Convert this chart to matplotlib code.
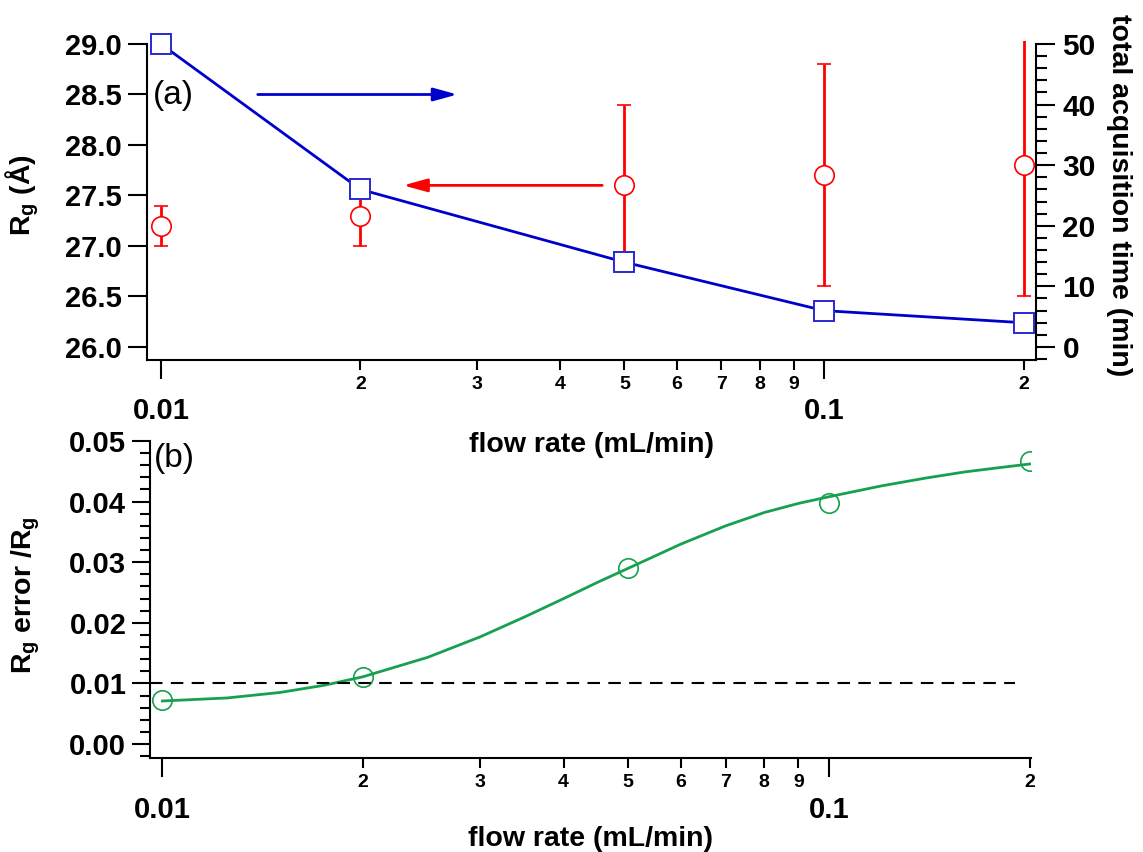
import numpy as np
import matplotlib
matplotlib.use('Agg')
import matplotlib.pyplot as plt
from matplotlib.ticker import FixedLocator, FixedFormatter, MultipleLocator, FormatStrFormatter

plt.rcParams['font.family'] = ['Liberation Sans', 'DejaVu Sans']
plt.rcParams['font.weight'] = 'bold'
plt.rcParams['axes.labelweight'] = 'bold'
plt.rcParams['mathtext.fontset'] = 'custom'
plt.rcParams['mathtext.rm'] = 'Liberation Sans:bold'
plt.rcParams['mathtext.bf'] = 'Liberation Sans:bold'

# data
flow = [0.01, 0.02, 0.05, 0.1, 0.2]
rg = [27.2, 27.3, 27.6, 27.7, 27.8]
rg_err = [0.2, 0.3, 0.8, 1.1, 1.3]
acq_time = [50.0, 26.0, 14.0, 6.0, 4.0]
rel_err = [0.0072, 0.011, 0.029, 0.0398, 0.0467]

# fitted curve in panel (b), read at these flow rates
fit_x = [0.01, 0.0125, 0.015, 0.0175, 0.02, 0.025, 0.03, 0.035, 0.04, 0.045,
         0.05, 0.06, 0.07, 0.08, 0.09, 0.1, 0.12, 0.14, 0.16, 0.18, 0.2]
fit_y = [0.0071, 0.0076, 0.0085, 0.0097, 0.0111, 0.0143, 0.0177, 0.0210, 0.0240, 0.0267,
         0.0290, 0.0330, 0.0360, 0.0382, 0.0397, 0.0408, 0.0426, 0.0439, 0.0449, 0.0456, 0.0462]

major_x = [0.01, 0.1]
major_x_labels = ['0.01', '0.1']
minor_x = [0.02, 0.03, 0.04, 0.05, 0.06, 0.07, 0.08, 0.09, 0.2]
minor_x_labels = ['2', '3', '4', '5', '6', '7', '8', '9', '2']

blue = '#0000cc'
red = '#ff0000'
green = '#16a050'

fig = plt.figure(figsize=(11.43, 8.52), dpi=100)
ax = fig.add_axes([0.1286, 0.5775, 0.7778, 0.3744])
ax2 = ax.twinx()
bx = fig.add_axes([0.1312, 0.1103, 0.7708, 0.3721])
bx.patch.set_alpha(0)


def style_x(a, lpad):
    a.set_xscale('log')
    a.xaxis.set_major_locator(FixedLocator(major_x))
    a.xaxis.set_major_formatter(FixedFormatter(major_x_labels))
    a.xaxis.set_minor_locator(FixedLocator(minor_x))
    a.xaxis.set_minor_formatter(FixedFormatter(minor_x_labels))
    a.tick_params(axis='x', which='major', length=14, width=1.5, pad=13, labelsize=21)
    a.tick_params(axis='x', which='minor', length=7.5, width=1.5, pad=4, labelsize=14)
    a.set_xlabel('flow rate (mL/min)', fontsize=20.5, labelpad=lpad)


# (a)
ax.errorbar(flow, rg, yerr=rg_err, fmt='o', color=red, ms=14, mfc='white', mec=red,
            mew=1.2, elinewidth=2, capsize=4.7, capthick=2.2)
ax2.plot(flow, acq_time, '-s', color=blue, lw=2, ms=14, mfc='white', mec='#2a2ad0',
         mew=1.4, clip_on=False, zorder=5)

style_x(ax, 5)
ax.set_xlim(0.00953, 0.2088)
ax.set_ylim(25.871, 29.03)
ax2.set_ylim(-2.145, 50.495)
ax.set_yticks([26.0, 26.5, 27.0, 27.5, 28.0, 28.5, 29.0])
ax.yaxis.set_major_formatter(FormatStrFormatter('%.1f'))
ax.tick_params(axis='y', length=14, width=1.5, pad=4, labelsize=21)
ax2.set_yticks([0, 10, 20, 30, 40, 50])
ax2.yaxis.set_minor_locator(MultipleLocator(2))
ax2.tick_params(axis='y', which='major', length=14, width=1.5, pad=5, labelsize=21.5)
ax2.tick_params(axis='y', which='minor', length=8, width=1.5)

ax.spines['top'].set_visible(False)
ax.spines['right'].set_visible(False)
ax2.spines['top'].set_visible(False)
ax2.spines['left'].set_visible(False)
ax2.spines['bottom'].set_visible(False)
for s in ['left', 'bottom']:
    ax.spines[s].set_linewidth(1.5)
ax2.spines['right'].set_linewidth(1.5)
ax.spines['left'].set_bounds(25.871, 29.0)
ax2.spines['right'].set_bounds(-2.145, 50)

ax.set_ylabel(r'R$_\mathbf{g}$ (Å)', fontsize=20.5)
ax.yaxis.set_label_coords(-0.119, 0.517)
ax2.set_ylabel('total acquisition time (min)', fontsize=20.5, rotation=270)
ax2.yaxis.set_label_coords(1.108, 0.517)

ax.annotate('', xy=(0.028, 28.5), xytext=(0.014, 28.5),
            arrowprops=dict(arrowstyle='-|>,head_length=0.8,head_width=0.22', color=blue,
                            lw=2, mutation_scale=18, shrinkA=0, shrinkB=0))
ax.annotate('', xy=(0.0232, 27.6), xytext=(0.0463, 27.6),
            arrowprops=dict(arrowstyle='-|>,head_length=0.8,head_width=0.22', color=red,
                            lw=2, mutation_scale=18, shrinkA=0, shrinkB=0))
ax.text(0.007, 0.83, '(a)', transform=ax.transAxes, fontsize=24, fontweight='normal',
        va='center', ha='left')

# (b)
bx.plot(fit_x, fit_y, '-', color=green, lw=2)
bx.plot(flow, rel_err, 'o', ms=14, mfc='none', mec=green, mew=1.2)
bx.hlines(0.01, 0.00958, 0.19, colors='k', linestyles=(0, (6, 4)), lw=1.5)

style_x(bx, 2)
bx.set_xlim(0.00958, 0.201)
bx.set_ylim(-0.00231, 0.05)
bx.set_yticks([0.0, 0.01, 0.02, 0.03, 0.04, 0.05])
bx.yaxis.set_major_formatter(FormatStrFormatter('%.2f'))
bx.yaxis.set_minor_locator(MultipleLocator(0.002))
bx.tick_params(axis='y', which='major', length=13, width=1.5, pad=4, labelsize=21)
bx.tick_params(axis='y', which='minor', length=7, width=1.5)
bx.spines['top'].set_visible(False)
bx.spines['right'].set_visible(False)
for s in ['left', 'bottom']:
    bx.spines[s].set_linewidth(1.5)
bx.spines['left'].set_bounds(-0.00231, 0.05)

bx.set_ylabel(r'R$_\mathbf{g}$ error /R$_\mathbf{g}$', fontsize=20.5)
bx.yaxis.set_label_coords(-0.1226, 0.514)
bx.text(0.005, 0.946, '(b)', transform=bx.transAxes, fontsize=24, fontweight='normal',
        va='center', ha='left')

fig.savefig('out.png', dpi=100)
